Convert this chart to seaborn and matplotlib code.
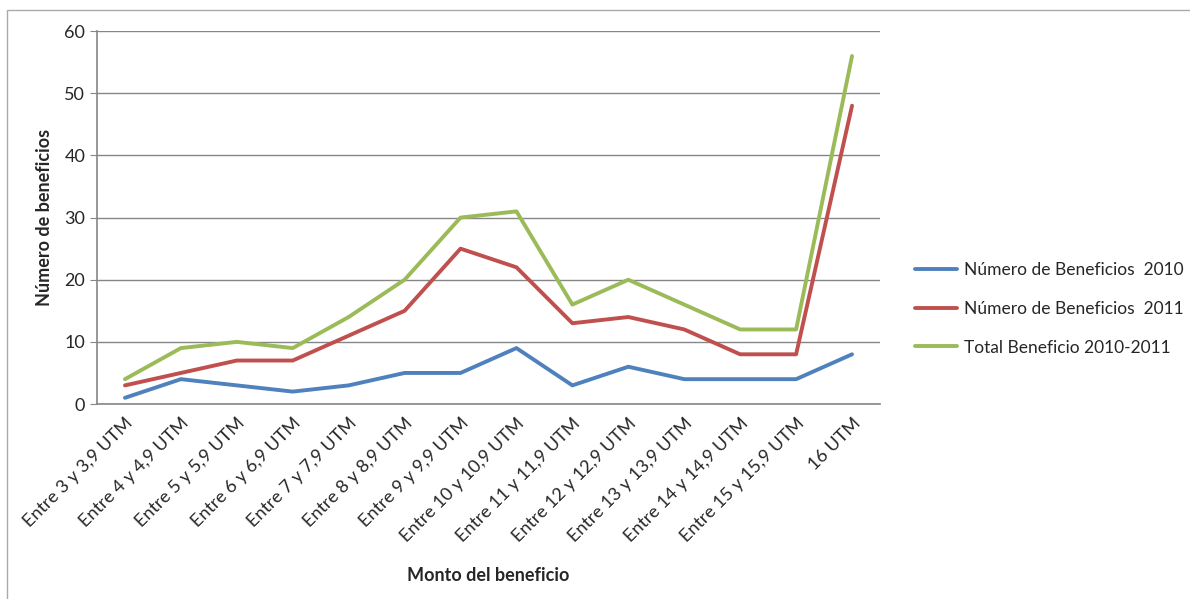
import pandas as pd
import seaborn as sns
from matplotlib import pyplot as plt
from matplotlib.patches import Rectangle

categorias = ["Entre 3 y 3,9 UTM", "Entre 4 y 4,9 UTM", "Entre 5 y 5,9 UTM", "Entre 6 y 6,9 UTM",
              "Entre 7 y 7,9 UTM", "Entre 8 y 8,9 UTM", "Entre 9 y 9,9 UTM", "Entre 10 y 10,9 UTM",
              "Entre 11 y 11,9 UTM", "Entre 12 y 12,9 UTM", "Entre 13 y 13,9 UTM", "Entre 14 y 14,9 UTM",
              "Entre 15 y 15,9 UTM", "16 UTM"]
beneficios_2010 = [1, 4, 3, 2, 3, 5, 5, 9, 3, 6, 4, 4, 4, 8]
beneficios_2011 = [3, 5, 7, 7, 11, 15, 25, 22, 13, 14, 12, 8, 8, 48]
total_2010_2011 = [4, 9, 10, 9, 14, 20, 30, 31, 16, 20, 16, 12, 12, 56]

series = ["Número de Beneficios  2010", "Número de Beneficios  2011", "Total Beneficio 2010-2011"]
colores = ["#4F81BD", "#C0504D", "#9BBB59"]

rows = []
for name, vals in zip(series, [beneficios_2010, beneficios_2011, total_2010_2011]):
    for i, v in enumerate(vals):
        rows.append([i, categorias[i], name, v])
df = pd.DataFrame(rows, columns=["pos", "monto", "serie", "valor"])

sns.set_style("white")
plt.rcParams["font.family"] = ["Lato", "DejaVu Sans"]

fig = plt.figure(figsize=(11.9, 5.99), dpi=100)
ax = fig.add_axes([0.0815, 0.3255, 0.658, 0.6225])

sns.lineplot(data=df, x="pos", y="valor", hue="serie", palette=colores, hue_order=series,
             linewidth=2.8, sort=False, ax=ax)

ax.set_xlim(-0.5, len(categorias) - 0.5)
ax.set_ylim(0, 60)
ax.set_yticks(range(0, 61, 10))
ax.set_xticks(range(len(categorias)))
ax.set_xticklabels(categorias, rotation=45, ha="right", rotation_mode="anchor", fontsize=13)
ax.tick_params(axis="y", labelsize=13, length=5, color="#868686", direction="out", left=True)
ax.tick_params(axis="x", length=0, pad=8)
ax.grid(axis="y", color="#868686", linewidth=1)
for s in ["top", "right"]:
    ax.spines[s].set_visible(False)
for s in ["left", "bottom"]:
    ax.spines[s].set_color("#868686")
    ax.spines[s].set_linewidth(1.2)

ax.set_xlabel("Monto del beneficio", fontsize=13, fontweight="bold", labelpad=16)
ax.set_ylabel("Número de beneficios", fontsize=13, fontweight="bold", labelpad=8)

ax.legend(loc="center left", bbox_to_anchor=(1.025, 0.255), frameon=False, fontsize=12.5,
          handlelength=2.4, labelspacing=1.3, handletextpad=0.4)

fig.patches.append(Rectangle((7 / 1190, -0.01), 1.2, 1 - 10 / 599 + 0.01, transform=fig.transFigure,
                             fill=False, edgecolor="#AAAAAA", linewidth=1))

plt.savefig("out.png", dpi=100)
